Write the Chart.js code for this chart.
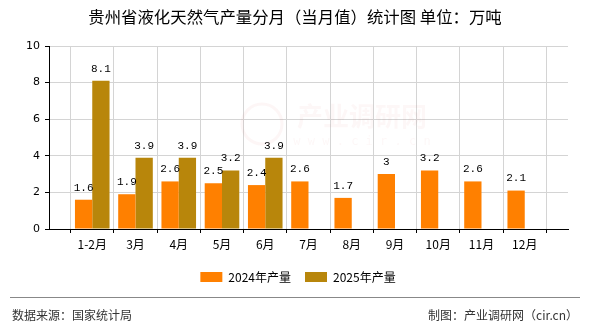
<!DOCTYPE html>
<html lang="zh">
<head>
    <meta charset="UTF-8">
    <title>贵州省液化天然气产量分月（当月值）统计图</title>
    <script src="https://cdn.jsdelivr.net/npm/chart.js"></script>
    <style>
        html, body { margin: 0; padding: 0; background: #fff; }
    </style>
</head>
<body>
    <canvas id="lng-chart" width="590" height="330"></canvas>

    <script>
        // 月份与产量（万吨）
        const months = ['1-2月', '3月', '4月', '5月', '6月', '7月', '8月', '9月', '10月', '11月', '12月'];
        const output2024 = [1.6, 1.9, 2.6, 2.5, 2.4, 2.6, 1.7, 3, 3.2, 2.6, 2.1];
        const output2025 = [8.1, 3.9, 3.9, 3.2, 3.9, null, null, null, null, null, null];
        const yTicks = [0, 2, 4, 6, 8, 10];

        const titleText = '贵州省液化天然气产量分月（当月值）统计图 单位：万吨';
        const sourceText = '数据来源：国家统计局';
        const creditText = '制图：产业调研网（cir.cn）';

        const cjk = '"Noto Sans CJK SC", "Noto Sans", sans-serif';

        // 两端各留一个空位，使刻度落在组中心
        const labels = [''].concat(months, ['']);
        const pad = arr => [null].concat(arr, [null]);

        // 标题、页脚和水印
        const decorations = {
            id: 'decorations',
            afterLayout(chart) {
                // 图例整体居中于画布而不是绘图区
                chart.legend.left += 14;
                chart.legend.right += 14;
            },
            beforeDatasetsDraw(chart) {
                const ctx = chart.ctx;
                ctx.save();
                ctx.fillStyle = 'rgba(225, 110, 110, 0.055)';
                ctx.strokeStyle = 'rgba(225, 110, 110, 0.06)';
                ctx.lineWidth = 3;
                ctx.beginPath();
                ctx.arc(262, 124, 20, 0, Math.PI * 2);
                ctx.stroke();
                ctx.font = 'bold 26px ' + cjk;
                ctx.textAlign = 'center';
                ctx.textBaseline = 'middle';
                ctx.fillText('产业调研网', 362, 116);
                ctx.font = '12px "DejaVu Sans Mono", monospace';
                ctx.fillText('w w w . c i r . c n', 362, 142);
                ctx.restore();
            },
            afterDraw(chart) {
                const ctx = chart.ctx;
                ctx.save();
                ctx.fillStyle = '#000';
                ctx.textAlign = 'center';
                ctx.textBaseline = 'middle';
                ctx.font = '16.4px ' + cjk;
                ctx.fillText(titleText, 295, 17);

                ctx.strokeStyle = '#888';
                ctx.lineWidth = 1;
                ctx.beginPath();
                ctx.moveTo(10, 297.5);
                ctx.lineTo(580, 297.5);
                ctx.stroke();

                ctx.fillStyle = '#333';
                ctx.font = '12px ' + cjk;
                ctx.textAlign = 'left';
                ctx.fillText(sourceText, 12, 315);
                ctx.textAlign = 'right';
                ctx.fillText(creditText, 578, 315);
                ctx.restore();
            }
        };

        // 柱顶数值
        const valueLabels = {
            id: 'valueLabels',
            afterDatasetsDraw(chart) {
                const ctx = chart.ctx;
                ctx.save();
                ctx.fillStyle = '#000';
                ctx.font = '11px "Liberation Mono", monospace';
                ctx.textAlign = 'center';
                ctx.textBaseline = 'middle';
                chart.data.datasets.forEach((ds, i) => {
                    const meta = chart.getDatasetMeta(i);
                    meta.data.forEach((bar, j) => {
                        const v = ds.data[j];
                        if (v === null || v === undefined) return;
                        ctx.fillText(String(v), bar.x, bar.y - 12);
                    });
                });
                ctx.restore();
            }
        };

        new Chart(document.getElementById('lng-chart'), {
            type: 'bar',
            data: {
                labels: labels,
                datasets: [{
                    label: '2024年产量',
                    data: pad(output2024),
                    backgroundColor: '#ff8000',
                    borderWidth: 0
                }, {
                    label: '2025年产量',
                    data: pad(output2025),
                    backgroundColor: '#b8860b',
                    borderWidth: 0
                }]
            },
            options: {
                responsive: false,
                animation: false,
                devicePixelRatio: 1,
                layout: { padding: { left: 0, right: 22, top: 46, bottom: 37 } },
                datasets: { bar: { categoryPercentage: 0.8, barPercentage: 1.0 } },
                scales: {
                    x: {
                        offset: false,
                        afterFit: s => { s.height = 28; },
                        border: { color: '#000', width: 1 },
                        grid: { color: '#d4d4d4', tickColor: '#000', tickLength: 4 },
                        ticks: {
                            autoSkip: false,
                            maxRotation: 0,
                            padding: 4,
                            color: '#000',
                            font: { size: 12, family: cjk }
                        }
                    },
                    y: {
                        min: 0,
                        max: 10,
                        afterFit: s => { s.width = 49; },
                        afterBuildTicks: s => { s.ticks = yTicks.map(v => ({ value: v })); },
                        border: { color: '#000', width: 1 },
                        grid: { color: '#d4d4d4', tickColor: '#000', tickLength: 4 },
                        ticks: {
                            padding: 5,
                            color: '#000',
                            font: { size: 11, family: '"DejaVu Sans", sans-serif' }
                        }
                    }
                },
                plugins: {
                    title: { display: false },
                    tooltip: { enabled: false },
                    legend: {
                        position: 'bottom',
                        labels: {
                            boxWidth: 22,
                            boxHeight: 10,
                            padding: 14,
                            color: '#000',
                            font: { size: 12, family: cjk }
                        }
                    }
                }
            },
            plugins: [decorations, valueLabels]
        });
    </script>
</body>
</html>
